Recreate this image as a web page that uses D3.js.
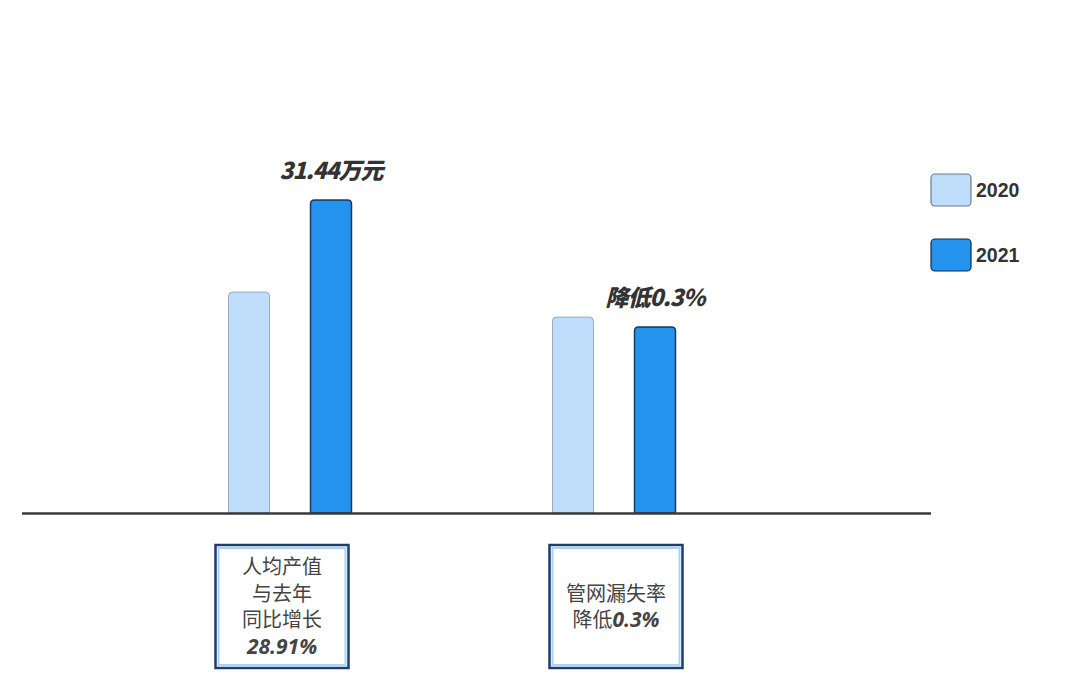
<!DOCTYPE html>
<html><head><meta charset="utf-8">
<script src="https://cdn.jsdelivr.net/npm/d3@7"></script>
<style>body{margin:0;background:#fff}svg{display:block}</style>
</head><body>
<svg id="c" width="1080" height="687"></svg>
<script>
const categories = ["人均产值", "管网漏失率"];
const seriesNames = ["2020", "2021"];
const values2020 = [70.6, 62.6];
const values2021 = [100, 59.4];
const topLabels = ["31.44万元", "降低0.3%"];
const boxLines = [["人均产值", "与去年", "同比增长", [{b: "28.91%"}]], ["管网漏失率", ["降低", {b: "0.3%"}]]];
const colors = ["#BEDDFA", "#2493EE"];

const svg = d3.select("#c");
const x0 = d3.scalePoint().domain(categories).range([290, 614]);
const y = d3.scaleLinear().domain([0, 100]).range([513, 200]);
const x1 = d3.scaleBand().domain(seriesNames).range([-61.5, 61.5]).paddingInner(0.5).paddingOuter(0);

function roundTop(x, y0, w, h, r) {
  return `M${x},${y0+h} L${x},${y0+r} Q${x},${y0} ${x+r},${y0} L${x+w-r},${y0} Q${x+w},${y0} ${x+w},${y0+r} L${x+w},${y0+h} Z`;
}

const data = categories.map((c, i) => ({c, i, vals: [values2020[i], values2021[i]]}));
const g = svg.append("g");
data.forEach(d => {
  const cx = x0(d.c);
  d.vals.forEach((v, j) => {
    const bx = cx + x1(seriesNames[j]);
    const by = y(v);
    g.append("path")
      .attr("d", roundTop(bx, by, x1.bandwidth(), y(0) - by, 4))
      .attr("fill", colors[j])
      .attr("stroke", j === 0 ? "#5a6b80" : "#13294a")
      .attr("stroke-width", j === 0 ? 1 : 1.5)
      .attr("stroke-opacity", j === 0 ? 0.5 : 0.9);
  });
  const lx = cx + x1(seriesNames[1]) + x1.bandwidth() / 2;
  svg.append("text")
    .attr("x", lx)
    .attr("y", y(d.vals[1]) - 21)
    .attr("text-anchor", "middle")
    .attr("font-family", "'Noto Sans CJK SC', sans-serif")
    .attr("font-weight", 900)
    .attr("font-style", "italic")
    .attr("font-size", 23)
    .attr("fill", "#333")
    .attr("letter-spacing", -1)
    .text(topLabels[d.i]);
});

// baseline
svg.append("line").attr("x1", 22).attr("x2", 931).attr("y1", y(0) + 0.5).attr("y2", y(0) + 0.5)
  .attr("stroke", "#3a3a3a").attr("stroke-width", 2.5);

// legend
seriesNames.forEach((s, j) => {
  const ly = 174 + j * 65;
  svg.append("rect").attr("x", 931).attr("y", ly).attr("width", 40).attr("height", 32).attr("rx", 4)
    .attr("fill", colors[j]).attr("stroke", j === 0 ? "#6a7a90" : "#13294a").attr("stroke-width", 1.2);
  svg.append("text").attr("x", 976).attr("y", ly + 23)
    .attr("font-family", "'Liberation Sans', Arial, sans-serif").attr("font-weight", 700)
    .attr("font-size", 19.5).attr("fill", "#333").text(s);
});

// boxes
const boxShift = [-8, 2];
data.forEach(d => {
  const cx = x0(d.c) + boxShift[d.i];
  const bw = 133, bh = 123;
  const bx = cx - bw / 2, by = 545;
  svg.append("rect").attr("x", bx).attr("y", by).attr("width", bw).attr("height", bh)
    .attr("fill", "#fff").attr("stroke", "#1d3d6e").attr("stroke-width", 2.5);
  svg.append("rect").attr("x", bx + 3).attr("y", by + 3).attr("width", bw - 6).attr("height", bh - 6)
    .attr("fill", "none").attr("stroke", "#a9d3f5").attr("stroke-width", 2);
  const lines = boxLines[d.i];
  const lh = 26.5;
  const startY = by + bh / 2 - (lines.length - 1) * lh / 2 + 7.5;
  lines.forEach((ln, k) => {
    const t = svg.append("text").attr("x", bx + bw / 2).attr("y", startY + k * lh)
      .attr("text-anchor", "middle").attr("font-family", "'Noto Sans CJK SC', sans-serif")
      .attr("font-size", 20).attr("fill", "#444");
    const parts = Array.isArray(ln) ? ln : [ln];
    parts.forEach(p => {
      if (typeof p === "string") t.append("tspan").text(p);
      else t.append("tspan").attr("font-weight", 700).attr("font-style", "italic")
        .attr("font-family", "'Open Sans', sans-serif").attr("font-size", 21).text(p.b);
    });
  });
});
</script>
</body></html>
